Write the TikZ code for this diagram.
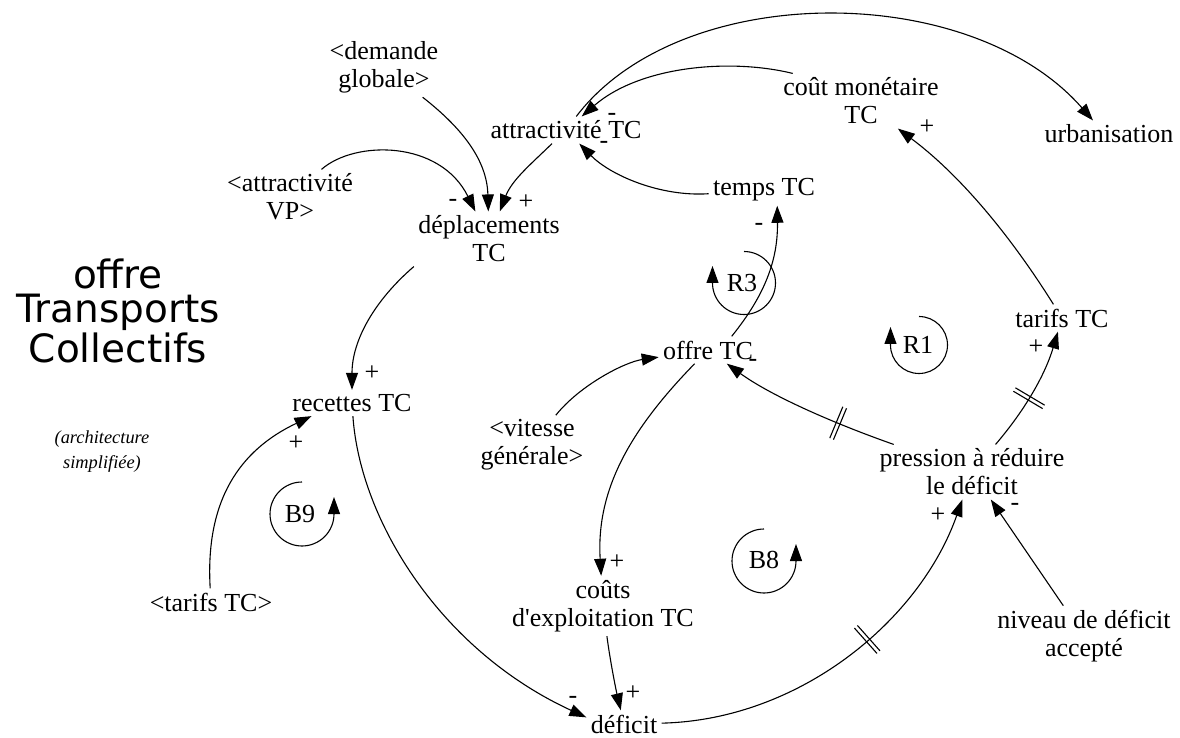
\documentclass[tikz,border=0pt]{standalone}
\usepackage{fontspec}
\newfontfamily\lbl{Liberation Serif}
\newfontfamily\ttl{DejaVu Sans}
\usetikzlibrary{arrows.meta,decorations.markings}

\tikzset{
  var/.style={font=\lbl\fontsize{13pt}{14pt}\selectfont, align=center, inner sep=2pt},
  sgn/.style={font=\lbl\fontsize{13pt}{14pt}\selectfont, inner sep=0pt},
  lnk/.style={line width=0.55pt, -{Triangle[length=8.5pt,width=6pt]}},
  loopsym/.style={line width=0.55pt, -{Triangle[length=8.5pt,width=6pt]}},
  delaymark/.style={postaction={decorate, decoration={markings,
      mark=at position #1 with {\draw[-, line width=0.55pt]
        (-1pt,-8.5pt) -- (-1pt,8.5pt) (1pt,-8.5pt) -- (1pt,8.5pt);}}}},
}

\begin{document}
\begin{tikzpicture}[x=0.5pt,y=-0.5pt]
\path[use as bounding box] (0,0) rectangle (1180,738);

% title and note
\node[font=\ttl\fontsize{19.5pt}{17pt}\selectfont, align=center, inner sep=0pt] (title) at (118,311) {offre\\Transports\\Collectifs};
\node[font=\lbl\itshape\fontsize{9.2pt}{12.5pt}\selectfont, align=center, inner sep=0pt] (note) at (102,452) {(architecture\\simplifiée)};

% variables
\node[var] (dem) at (384,67) {<demande\\globale>};
\node[var] (avp) at (290,197) {<attractivité\\VP>};
\node[var] (atc) at (566,130) {attractivité TC};
\node[var] (dep) at (489,239) {déplacements\\TC};
\node[var] (cm)  at (861,101) {coût monétaire\\TC};
\node[var] (urb) at (1109,134) {urbanisation};
\node[var] (tps) at (764,190) {temps TC};
\node[var] (off) at (708,350) {offre TC};
\node[var] (vit) at (532,445) {<vitesse\\générale>};
\node[var] (rec) at (352,403) {recettes TC};
\node[var] (cex) at (603,606) {coûts\\d'exploitation TC};
\node[var] (def) at (624,724) {déficit};
\node[var] (prs) at (972,472) {pression à réduire\\le déficit};
\node[var] (niv) at (1084,636) {niveau de déficit\\accepté};
\node[var] (tar) at (1062,318) {tarifs TC};
\node[var] (ttc) at (211,602) {<tarifs TC>};

% causal links
\draw[lnk] (dem) .. controls (462,128) and (487,160) .. (dep);
\draw[lnk] (avp) .. controls (355,140) and (440,140) .. (dep);
\draw[lnk] (atc) .. controls (530,165) and (512,180) .. (dep);
\draw[lnk] (cm.158) .. controls (730,58) and (640,66) .. (atc);
\draw[lnk] (atc) .. controls (680,-20) and (970,-20) .. ([xshift=-8pt]urb.north);
\draw[lnk] (tps) .. controls (660,197) and (610,175) .. (atc);
\draw[lnk] (off.30) .. controls (765,295) and (778,260) .. (tps.-50);
\draw[lnk] (vit) .. controls (580,385) and (625,362) .. (off);
\draw[lnk] (off) .. controls (630,430) and (596,490) .. (cex);
\draw[lnk] (cex) .. controls (610,660) and (616,690) .. (def);
\draw[lnk] (rec) .. controls (360,520) and (440,650) .. (def.170);
\draw[lnk, delaymark=0.57] (def) .. controls (800,720) and (920,620) .. (prs);
\draw[lnk] (niv) -- (prs);
\draw[lnk, delaymark=0.32] (prs) .. controls (830,422) and (770,395) .. (off);
\draw[lnk, delaymark=0.44] (prs) .. controls (1025,410) and (1045,375) .. (tar);
\draw[lnk] (tar) .. controls (1010,235) and (960,175) .. (cm);
\draw[lnk] (ttc) .. controls (205,500) and (240,450) .. (rec.198);
\draw[lnk] (dep.south west) .. controls (375,300) and (352,340) .. (rec);

% polarities
\node[sgn] (s1)  at (453,203) {-};
\node[sgn] (s2)  at (526,202) {+};
\node[sgn] (s3)  at (612,117) {-};
\node[sgn] (s4)  at (604,145) {-};
\node[sgn] (s5)  at (759,227) {-};
\node[sgn] (s6)  at (927,127) {+};
\node[sgn] (s7)  at (1036,347) {+};
\node[sgn] (s8)  at (753,363) {-};
\node[sgn] (s9)  at (938,515) {+};
\node[sgn] (s10) at (1015,507) {-};
\node[sgn] (s11) at (617,562) {+};
\node[sgn] (s12) at (633,693) {+};
\node[sgn] (s13) at (573,700) {-};
\node[sgn] (s14) at (372,373) {+};
\node[sgn] (s15) at (296,443) {+};

% loop identifiers
\draw[loopsym] (744,251.5) arc[start angle=-90, end angle=180, radius=31.5] -- ++(0,-17);
\node[var] (lR3) at (742,283) {R3};
\draw[loopsym] (919,316.5) arc[start angle=-90, end angle=180, radius=28.5] -- ++(0,-18);
\node[var] (lR1) at (918,345) {R1};
\draw[loopsym] (764,529) arc[start angle=-90, end angle=-360, radius=32] -- ++(0,-17);
\node[var] (lB8) at (764,560) {B8};
\draw[loopsym] (302,482) arc[start angle=-90, end angle=-360, radius=32] -- ++(0,-17);
\node[var] (lB9) at (300,514) {B9};
\end{tikzpicture}
\end{document}
